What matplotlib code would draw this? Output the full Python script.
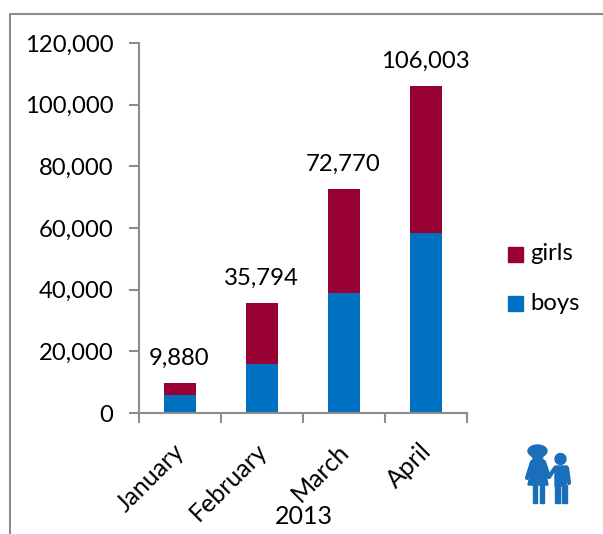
import matplotlib
matplotlib.use('Agg')
import matplotlib.pyplot as plt
from matplotlib.patches import Rectangle, Circle, Ellipse, Polygon

plt.rcParams['font.family'] = ['Lato', 'DejaVu Sans']

months = ['January', 'February', 'March', 'April']
boys = [6000, 15800, 39000, 58500]
girls = [3880, 19994, 33770, 47503]
totals = [9880, 35794, 72770, 106003]
yticks = [0, 20000, 40000, 60000, 80000, 100000, 120000]
year = '2013'

W, H = 603, 534
blue = '#0070c0'
red = '#990033'
grey = '#8c8c8c'
fs = 17.2

fig = plt.figure(figsize=(W/100, H/100), dpi=100)

# plot area, in pixels of the reference
left, right, top, bottom = 139, 467, 43, 413
ax = fig.add_axes([left/W, 1-bottom/H, (right-left)/W, (bottom-top)/H])

x = range(len(months))
ax.bar(x, boys, width=0.4, color=blue, label='boys')
ax.bar(x, girls, width=0.4, bottom=boys, color=red, label='girls')

for i, t in enumerate(totals):
    ax.annotate(f'{t:,}', (i, t), xytext=(-0.5, 10), textcoords='offset points',
                ha='center', va='bottom', fontsize=fs, color='black')

ax.set_xlim(-0.5, 3.5)
ax.set_ylim(0, 120000)
ax.set_yticks(yticks)
ax.set_yticklabels([f'{v:,}' for v in yticks], fontsize=fs)
ax.set_xticks([-0.5, 0.5, 1.5, 2.5, 3.5])
ax.set_xticklabels([])
ax.tick_params(axis='x', length=7, width=1.5, color=grey, direction='out')
ax.tick_params(axis='y', length=7, width=1.5, color=grey, direction='out', pad=11.5)
for s in ['top', 'right']:
    ax.spines[s].set_visible(False)
for s in ['left', 'bottom']:
    ax.spines[s].set_color(grey)
    ax.spines[s].set_linewidth(1.5)

# month labels rotated, anchored on their right end under each bar
for i, m in enumerate(months):
    ax.annotate(m, (i, 0), xytext=(-5, -19), textcoords='offset points', rotation=45,
                rotation_mode='anchor', ha='right', va='top', fontsize=18)

fig.text(304/W, 1-517/H, year, ha='center', va='center', fontsize=18)

# overlay in pixel coordinates for frame, legend and icon
ov = fig.add_axes([0, 0, 1, 1], facecolor='none')
ov.set_xlim(0, W)
ov.set_ylim(H, 0)
ov.axis('off')
ov.plot([9.5, 9.5, W], [H, 13.5, 13.5], color=grey, lw=1.5, clip_on=False)

handles, labels = ax.get_legend_handles_labels()
for (name, ypx, col) in [(labels[1], 254, red), (labels[0], 303, blue)]:
    ov.add_patch(Rectangle((508, ypx-7.5), 15, 15, color=col))
    ov.text(530, ypx, name, va='center', ha='left', fontsize=17.2)

# girl and boy icon
c = '#1a6fba'
ov.add_patch(Ellipse((537.5, 451), 19, 12, color=c))
ov.add_patch(Circle((537.5, 453), 6.5, color=c))
ov.add_patch(Polygon([[533, 459], [543, 459], [548, 485], [528, 485]], color=c))
ov.add_patch(Rectangle((533, 484), 4, 19, color=c))
ov.add_patch(Rectangle((540, 484), 4, 19, color=c))
ov.plot([532, 527], [462, 478], color=c, lw=3, solid_capstyle='round')
ov.plot([544, 549], [462, 477], color=c, lw=3, solid_capstyle='round')
ov.add_patch(Circle((560.5, 459), 5.5, color=c))
ov.add_patch(Polygon([[555, 466], [567, 466], [566, 486], [555, 486]], color=c))
ov.add_patch(Rectangle((555, 485), 4.5, 18, color=c))
ov.add_patch(Rectangle((562, 485), 4.5, 18, color=c))
ov.plot([555, 549], [468, 477], color=c, lw=3, solid_capstyle='round')
ov.plot([567, 569], [468, 483], color=c, lw=3, solid_capstyle='round')

fig.savefig('out.png', dpi=100)
